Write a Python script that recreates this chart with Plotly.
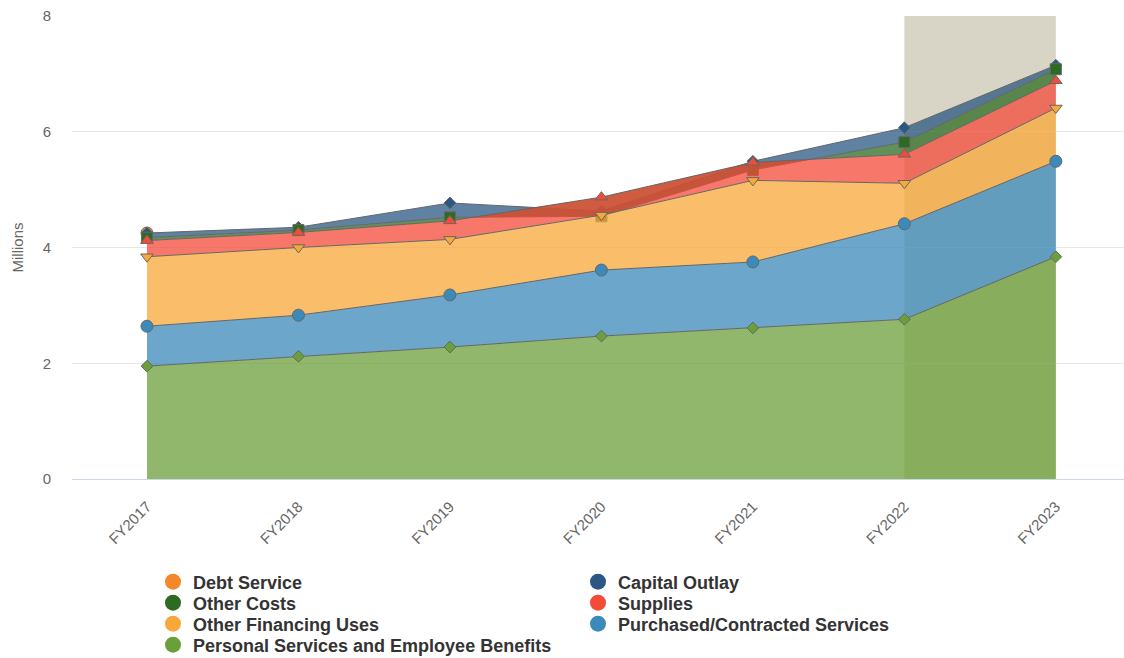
import numpy as np
import plotly.graph_objects as go

# Fiscal years on the category axis
years = ["FY2017", "FY2018", "FY2019", "FY2020", "FY2021", "FY2022", "FY2023"]

# Expenditure by category, in millions (stack order: bottom to top)
personal_services = [1.95, 2.12, 2.28, 2.47, 2.61, 2.76, 3.84]
purchased_services = [0.69, 0.71, 0.90, 1.14, 1.14, 1.65, 1.65]
other_financing = [1.20, 1.17, 0.96, 0.95, 1.41, 0.70, 0.92]
supplies = [0.28, 0.26, 0.32, 0.31, 0.31, 0.50, 0.47]
other_costs = [0.05, 0.04, 0.06, -0.33, -0.13, 0.21, 0.20]
capital_outlay = [0.08, 0.05, 0.25, 0.09, 0.15, 0.25, 0.07]
debt_service = [0.0, None, None, None, None, None, None]

# Projected period shaded behind the areas
band_start, band_end = "FY2022", "FY2023"

FONT = "Liberation Sans, Arial, sans-serif"
EDGE = "#666666"


def rgba(hex_color, alpha):
    h = hex_color.lstrip("#")
    r, g, b = (int(h[i:i + 2], 16) for i in (0, 2, 4))
    return f"rgba({r},{g},{b},{alpha})"


series = [
    ("Personal Services and Employee Benefits", personal_services, "#6b9f3a", "diamond", 9),
    ("Purchased/Contracted Services", purchased_services, "#3b8ab9", "circle", 12),
    ("Other Financing Uses", other_financing, "#f8a838", "triangle-down", 11),
    ("Supplies", supplies, "#f44b39", "triangle-up", 11),
    ("Other Costs", other_costs, "#2e6b22", "square", 11),
    ("Capital Outlay", capital_outlay, "#2a5783", "diamond", 9),
    ("Debt Service", debt_service, "#f5872a", "circle", 12),
]

# Running totals: each layer sits on the sum of the layers below it
layers = []
base = np.zeros(len(years))
for name, values, color, symbol, size in series:
    v = np.array([np.nan if x is None else x for x in values], dtype=float)
    missing = np.isnan(v)
    lower = np.where(missing, np.nan, base)
    upper = base + v
    layers.append((name, lower, upper, color, symbol, size))
    base = base + np.nan_to_num(v)

fig = go.Figure()

fig.add_shape(
    type="rect", xref="x", yref="y",
    x0=band_start, x1=band_end, y0=0, y1=8,
    fillcolor="#d9d5c6", line_width=0, layer="below",
)

# Paint the top of the stack first so lower layers overlap upper ones
for name, lower, upper, color, symbol, size in reversed(layers):
    fig.add_trace(go.Scatter(
        x=years, y=lower, mode="lines",
        line=dict(width=0, color="rgba(0,0,0,0)"),
        showlegend=False, hoverinfo="skip",
    ))
    fig.add_trace(go.Scatter(
        x=years, y=upper, name=name, mode="lines+markers",
        fill="tonexty", fillcolor=rgba(color, 0.75),
        line=dict(color=EDGE, width=1),
        marker=dict(symbol=symbol, size=size, color=color,
                    line=dict(color=EDGE, width=1)),
        showlegend=False,
        customdata=upper - lower,
        hovertemplate="%{x}: %{customdata:.2f}M<extra>" + name + "</extra>",
    ))

# Legend rows, two columns each
legend_rows = [
    ["Debt Service", "Capital Outlay"],
    ["Other Costs", "Supplies"],
    ["Other Financing Uses", "Purchased/Contracted Services"],
    ["Personal Services and Employee Benefits"],
]
colors = {name: color for name, _, color, _, _ in series}
row_centers_px = [582, 603, 624, 645]
plot_top, plot_bottom = 16, 479
plot_h = plot_bottom - plot_top

legend_layouts = {}
for i, (row, cy) in enumerate(zip(legend_rows, row_centers_px)):
    key = "legend" if i == 0 else f"legend{i + 1}"
    for name in row:
        fig.add_trace(go.Scatter(
            x=[None], y=[None], name=name, mode="markers",
            marker=dict(symbol="circle", size=16, color=colors[name]),
            legend=key, showlegend=True, hoverinfo="skip",
        ))
    legend_layouts[key] = dict(
        orientation="h", x=0.077, xanchor="left",
        y=-(cy - plot_bottom) / plot_h, yanchor="middle",
        traceorder="normal",
        entrywidth=380, entrywidthmode="pixels",
        itemsizing="trace", itemclick=False, itemdoubleclick=False,
        font=dict(family=FONT, size=18, color="#333333", weight="bold"),
        bgcolor="rgba(0,0,0,0)", borderwidth=0,
    )

fig.update_layout(
    width=1124, height=658,
    margin=dict(l=72, r=0, t=plot_top, b=658 - plot_bottom, autoexpand=False),
    paper_bgcolor="white", plot_bgcolor="white",
    font=dict(family=FONT, size=15, color="#666666"),
    hovermode="closest",
    **legend_layouts,
)

fig.update_xaxes(
    type="category", categoryorder="array", categoryarray=years,
    range=[-0.495, 6.45],
    showgrid=False, showline=True, linecolor="#ccd6eb", linewidth=1,
    ticks="", tickangle=-45, ticklabelstandoff=12,
    tickfont=dict(family=FONT, size=15, color="#666666"),
    zeroline=False,
)
fig.update_yaxes(
    range=[0, 8], tickvals=[0, 2, 4, 6, 8],
    showgrid=True, gridcolor="#e6e6e6", gridwidth=1,
    zeroline=False, showline=False, ticks="",
    ticklabelstandoff=20,
    tickfont=dict(family=FONT, size=15, color="#666666"),
    title=dict(text="Millions", font=dict(family=FONT, size=15, color="#666666")),
)

fig.write_html("out.html")
